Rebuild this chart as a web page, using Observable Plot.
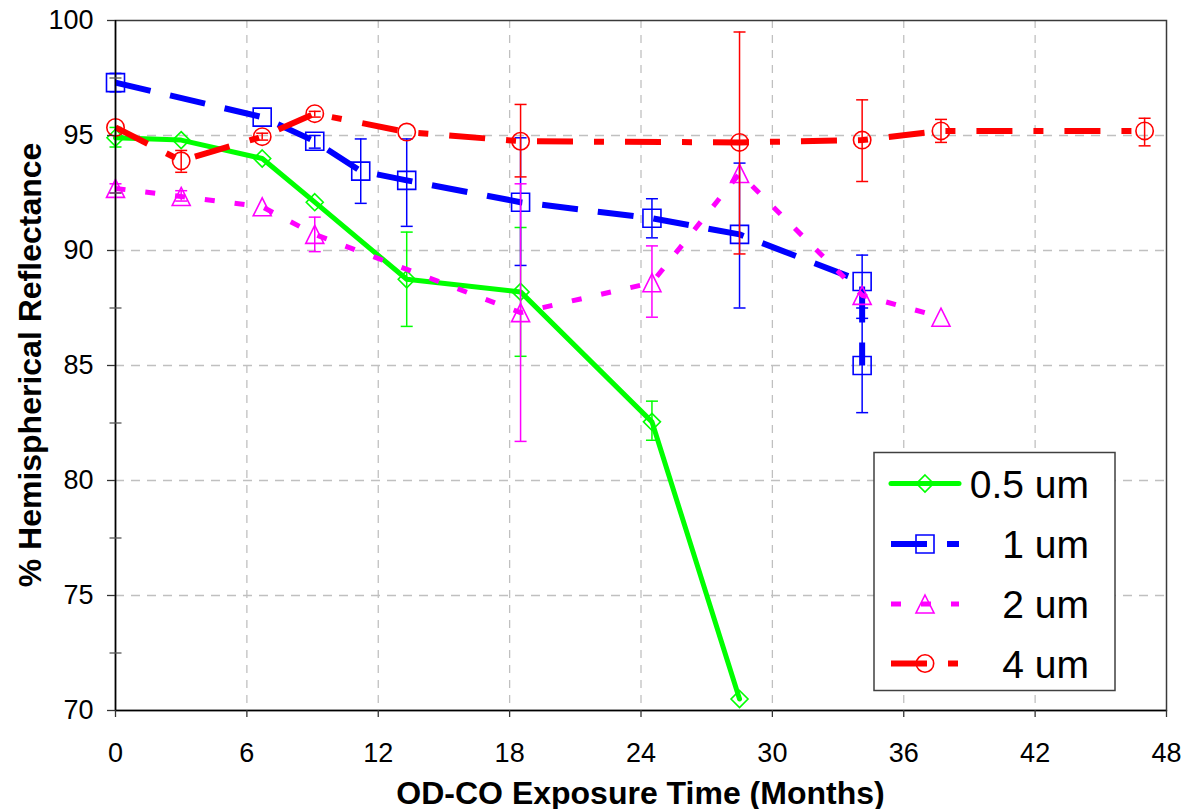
<!DOCTYPE html>
<html>
<head>
<meta charset="utf-8">
<script src="https://cdn.jsdelivr.net/npm/d3@7"></script>
<script src="https://cdn.jsdelivr.net/npm/@observablehq/plot@0.6"></script>
<style>
  html, body { margin: 0; padding: 0; background: #ffffff; }
  #chart svg { display: block; overflow: visible; }
</style>
</head>
<body>
<div id="chart"></div>
<script>
// ---------------- data ----------------
const seriesNames = ["0.5 um", "1 um", "2 um", "4 um"];

const months05 = [0, 3.0, 6.7, 9.1, 13.3, 18.5, 24.5, 28.5];
const refl05   = [94.9, 94.8, 94.0, 92.1, 88.75, 88.2, 82.55, 70.5];
const errX05   = [0, 13.3, 18.5, 24.5];
const errLo05  = [94.5, 86.7, 85.4, 81.75];
const errHi05  = [95.35, 90.8, 91.0, 83.45];

const months1 = [0, 6.7, 9.1, 11.2, 13.3, 18.5, 24.5, 28.5, 34.1, 34.1];
const refl1   = [97.3, 95.8, 94.75, 93.45, 93.05, 92.1, 91.4, 90.7, 88.65, 85.0];
const errX1   = [0, 9.1, 11.2, 13.3, 18.5, 24.5, 28.5, 34.1, 34.1];
const errLo1  = [96.9, 94.45, 92.05, 91.05, 89.35, 90.55, 87.5, 87.5, 82.95];
const errHi1  = [97.7, 95.0, 94.85, 94.85, 94.9, 92.25, 93.8, 89.8, 87.05];

const months2 = [0, 3.0, 6.7, 9.1, 18.5, 24.5, 28.5, 34.1, 37.7];
const refl2   = [92.7, 92.35, 91.9, 90.7, 87.3, 88.6, 93.35, 88.05, 87.1];
const errX2   = [0, 3.0, 9.1, 18.5, 24.5];
const errLo2  = [92.5, 92.15, 89.95, 81.7, 87.1];
const errHi2  = [92.9, 92.6, 91.45, 92.9, 90.2];

const months4 = [0, 3.0, 6.7, 9.1, 13.3, 18.5, 28.5, 34.1, 37.7, 47.0];
const refl4   = [95.35, 93.9, 94.95, 95.95, 95.15, 94.75, 94.7, 94.8, 95.2, 95.2];
const errX4   = [3.0, 6.7, 9.1, 18.5, 28.5, 34.1, 37.7, 47.0];
const errLo4  = [93.4, 94.8, 95.8, 93.2, 89.85, 93.0, 94.7, 94.55];
const errHi4  = [94.35, 95.1, 96.05, 96.35, 99.5, 96.55, 95.7, 95.75];

const xTicks = [0, 6, 12, 18, 24, 30, 36, 42, 48];
const yTicks = [70, 75, 80, 85, 90, 95, 100];
const yMinorTicks = [72.5, 77.5, 82.5, 87.5, 92.5, 97.5];
const xGrid = [6, 12, 18, 24, 30, 36, 42];
const yGrid = [75, 80, 85, 90, 95];

const xTitle = "OD-CO Exposure Time (Months)";
const yTitle = "% Hemispherical Reflectance";

// ---------------- styling ----------------
const FONT = "'Liberation Sans', Arial, Helvetica, sans-serif";
const colors = ["#00ff00", "#0000ff", "#ff00ff", "#ff0000"];
const lineWidths = [5, 6, 5, 6];
const dashes = [null, "36,20", "10,20", "36,21,10,21"];
const caps = ["round", "butt", "butt", "butt"];

// custom symbols (size = PI r^2 -> r is the half-size in px)
const sym = (f) => ({ draw(ctx, size) { const r = Math.sqrt(size / Math.PI); f(ctx, r); } });
const diamond = sym((c, r) => { c.moveTo(0, -r); c.lineTo(r, 0); c.lineTo(0, r); c.lineTo(-r, 0); c.closePath(); });
const square = sym((c, r) => { c.moveTo(-r, -r); c.lineTo(r, -r); c.lineTo(r, r); c.lineTo(-r, r); c.closePath(); });
const triangle = sym((c, r) => { c.moveTo(0, -r); c.lineTo(r, r); c.lineTo(-r, r); c.closePath(); });
const circle = sym((c, r) => { c.moveTo(r, 0); c.arc(0, 0, r, 0, 2 * Math.PI); c.closePath(); });
const hline = sym((c, r) => { c.moveTo(-r, 0); c.lineTo(r, 0); });
const symbols = [diamond, square, triangle, circle];
const symR = [8.5, 9, 9, 8.7];

const zip = (xs, ys) => xs.map((x, i) => ({ x, y: ys[i] }));
const zipErr = (xs, lo, hi) => xs.map((x, i) => ({ x, lo: lo[i], hi: hi[i] }));

const series = [
  { pts: zip(months05, refl05), err: zipErr(errX05, errLo05, errHi05) },
  { pts: zip(months1, refl1), err: zipErr(errX1, errLo1, errHi1) },
  { pts: zip(months2, refl2), err: zipErr(errX2, errLo2, errHi2) },
  { pts: zip(months4, refl4), err: zipErr(errX4, errLo4, errHi4) }
];

const marks = [
  Plot.gridX(xGrid, { stroke: "#c0c0c0", strokeOpacity: 1, strokeWidth: 1.3, strokeDasharray: "8,7" }),
  Plot.gridY(yGrid, { stroke: "#c0c0c0", strokeOpacity: 1, strokeWidth: 1.3, strokeDasharray: "9,7" }),
  Plot.frame({ stroke: "#3a3a3a", strokeWidth: 1.5 })
];

series.forEach((s, i) => {
  marks.push(Plot.line(s.pts, {
    x: "x", y: "y", stroke: colors[i], strokeWidth: lineWidths[i],
    strokeDasharray: dashes[i], strokeLinecap: caps[i], strokeLinejoin: "round"
  }));
  marks.push(Plot.ruleX(s.err, { x: "x", y1: "lo", y2: "hi", stroke: colors[i], strokeWidth: 1.5 }));
  marks.push(Plot.dot(s.err, { x: "x", y: "lo", symbol: hline, r: 6, stroke: colors[i], strokeWidth: 1.5, fill: "none" }));
  marks.push(Plot.dot(s.err, { x: "x", y: "hi", symbol: hline, r: 6, stroke: colors[i], strokeWidth: 1.5, fill: "none" }));
  marks.push(Plot.dot(s.pts, { x: "x", y: "y", symbol: symbols[i], r: symR[i], stroke: colors[i], strokeWidth: 1.6, fill: "none" }));
});

marks.push(
  Plot.ruleX([0], { stroke: "#000", strokeWidth: 1.5 }),
  Plot.ruleY([70], { stroke: "#000", strokeWidth: 1.5 }),
  Plot.dot(yMinorTicks, { y: (d) => d, frameAnchor: "left", symbol: hline, r: 6, stroke: "#555", strokeWidth: 1.3 }),
  Plot.axisX({ ticks: xTicks, tickSize: 7, tickPadding: 25, fontSize: 27, label: null, stroke: "#333", strokeWidth: 1.3, tickFormat: (d) => String(d) }),
  Plot.axisY({ ticks: yTicks, tickSize: 8, tickPadding: 14, fontSize: 27, label: null, stroke: "#333", strokeWidth: 1.3, tickFormat: (d) => String(d) })
);

const svg = Plot.plot({
  width: 1185,
  height: 809,
  marginLeft: 115,
  marginRight: 19,
  marginTop: 20,
  marginBottom: 99,
  style: { fontFamily: FONT, background: "#ffffff", color: "#000" },
  x: { domain: [0, 48] },
  y: { domain: [70, 100] },
  marks
});

document.getElementById("chart").appendChild(svg);

// ---------------- titles ----------------
const root = d3.select(svg);
root.append("text")
  .attr("x", 640.5).attr("y", 804)
  .attr("text-anchor", "middle")
  .attr("font-family", FONT).attr("font-size", 32).attr("font-weight", "bold")
  .attr("fill", "#000")
  .text(xTitle);

root.append("text")
  .attr("transform", "translate(41,365) rotate(-90)")
  .attr("text-anchor", "middle")
  .attr("font-family", FONT).attr("font-size", 32).attr("font-weight", "bold")
  .attr("fill", "#000")
  .text(yTitle);

// ---------------- legend ----------------
const lg = root.append("g");
lg.append("rect")
  .attr("x", 874).attr("y", 452.5).attr("width", 241).attr("height", 238)
  .attr("fill", "#ffffff").attr("stroke", "#404040").attr("stroke-width", 1.5);

const rowY = [483.5, 544, 604, 663.5];
seriesNames.forEach((name, i) => {
  const y = rowY[i];
  lg.append("line")
    .attr("x1", 891).attr("x2", 959).attr("y1", y).attr("y2", y)
    .attr("stroke", colors[i]).attr("stroke-width", lineWidths[i])
    .attr("stroke-dasharray", dashes[i]).attr("stroke-linecap", caps[i]);
  const p = d3.path();
  symbols[i].draw(p, Math.PI * symR[i] * symR[i]);
  lg.append("path")
    .attr("d", p.toString())
    .attr("transform", `translate(925,${y})`)
    .attr("fill", "none").attr("stroke", colors[i]).attr("stroke-width", 1.6);
  lg.append("text")
    .attr("x", 1089).attr("y", y + 14)
    .attr("text-anchor", "end")
    .attr("font-family", FONT).attr("font-size", 39)
    .attr("fill", "#000")
    .text(name);
});
</script>
</body>
</html>
